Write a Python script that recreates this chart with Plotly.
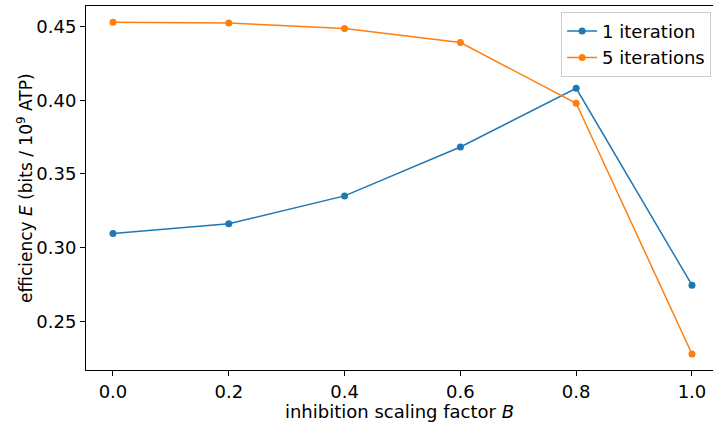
import plotly.graph_objects as go

B = [0.0, 0.2, 0.4, 0.6, 0.8, 1.0]
eff_1iter = [0.3095, 0.3162, 0.3351, 0.3683, 0.4081, 0.2745]
eff_5iter = [0.4529, 0.4524, 0.4488, 0.4392, 0.3980, 0.2278]

fig = go.Figure()
fig.add_trace(go.Scatter(x=B, y=eff_1iter, mode="lines+markers", name="1 iteration",
                         line=dict(color="#1f77b4", width=1.5), marker=dict(size=7, color="#1f77b4")))
fig.add_trace(go.Scatter(x=B, y=eff_5iter, mode="lines+markers", name="5 iterations",
                         line=dict(color="#ff7f0e", width=1.5), marker=dict(size=7, color="#ff7f0e")))

axis_common = dict(showgrid=False, zeroline=False, showline=True, linecolor="black", linewidth=1,
                   ticks="outside", ticklen=5, tickcolor="black",
                   tickfont=dict(size=18, color="black"))
fig.update_layout(
    width=713, height=422,
    margin=dict(l=86, r=0, t=6, b=50),
    paper_bgcolor="white", plot_bgcolor="white",
    font=dict(family="DejaVu Sans", size=18, color="black"),
    xaxis=dict(range=[-0.0466, 1.0363], tickvals=[0, 0.2, 0.4, 0.6, 0.8, 1.0],
               ticktext=["0.0", "0.2", "0.4", "0.6", "0.8", "1.0"], mirror=True,
               title=dict(text="inhibition scaling factor <i>B</i>", standoff=8, font=dict(size=18)),
               **axis_common),
    yaxis=dict(range=[0.2169, 0.4640], tickvals=[0.25, 0.30, 0.35, 0.40, 0.45],
               ticktext=["0.25", "0.30", "0.35", "0.40", "0.45"], mirror=False,
               **axis_common),
    legend=dict(x=0.997, y=0.984, xanchor="right", yanchor="top", bgcolor="rgba(255,255,255,0.8)",
                bordercolor="#cccccc", borderwidth=1, font=dict(size=18)),
)
fig.add_annotation(text="efficiency <i>E</i> (bits / 10<sup>9</sup> ATP)", textangle=-90,
                   xref="paper", yref="paper", x=0, y=0.5, xanchor="center", yanchor="middle",
                   xshift=-61, showarrow=False, font=dict(size=17, color="black"))
fig.write_html("out.html", config={"displayModeBar": False},
               post_script="document.body.style.margin='0';document.body.style.overflow='hidden';")
